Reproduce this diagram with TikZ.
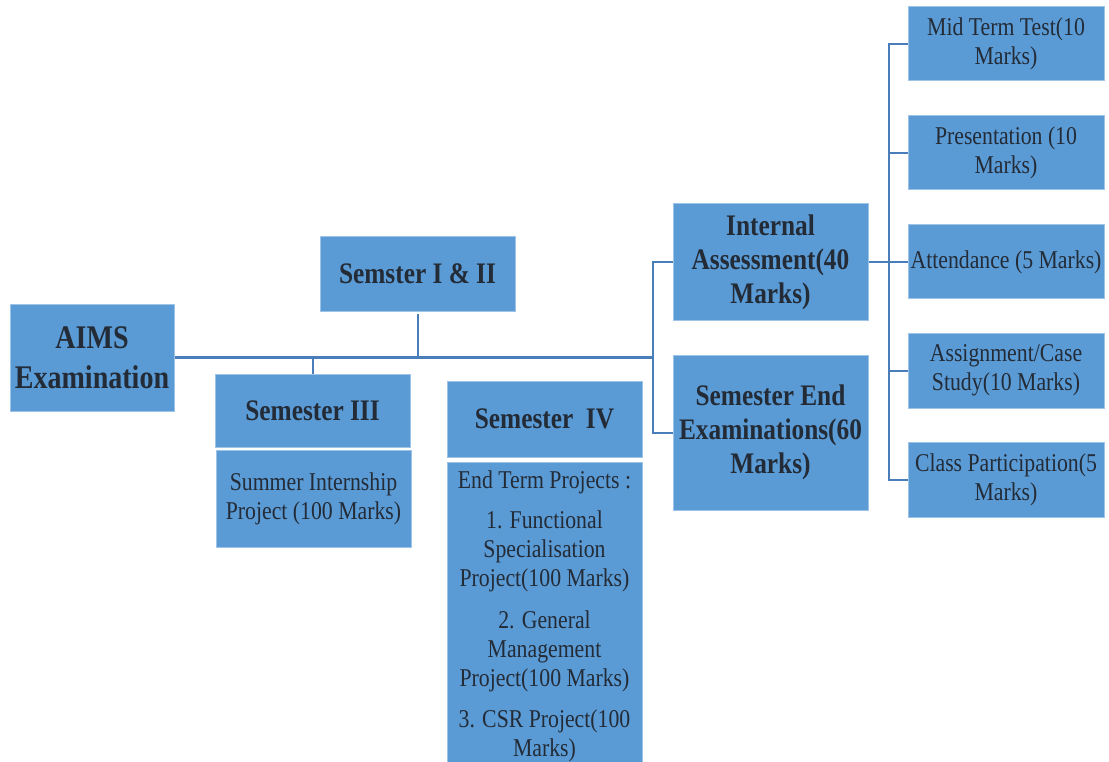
\documentclass[tikz,border=0pt]{standalone}
\usepackage{fontspec}
\setmainfont{Liberation Serif}[FakeStretch=0.85]
\usetikzlibrary{calc}
\definecolor{boxfill}{HTML}{5B9BD5}
\definecolor{boxline}{HTML}{9DC3E6}
\definecolor{conn}{HTML}{4A7EBB}
\definecolor{txt}{HTML}{232B36}
\tikzset{
  box/.style={rectangle, fill=boxfill, draw=boxline, line width=1pt, inner sep=0pt, align=center, text=txt},
  bighead/.style={box, font=\bfseries\fontsize{33}{40}\selectfont},
  head/.style={box, font=\bfseries\fontsize{29.8}{34}\selectfont},
  leaf/.style={box, font=\fontsize{25.6}{29}\selectfont},
  link/.style={draw=conn, line width=2pt},
  mainlink/.style={draw=conn, line width=2.6pt},
}
\begin{document}
\begin{tikzpicture}[x=1pt,y=-1pt]
\useasboundingbox (0,0) rectangle (1109,762);
% boxes
\node[bighead, minimum width=164pt, minimum height=107pt] (aims) at (92,357.5) {AIMS\\Examination};
\node[head, minimum width=195pt, minimum height=74pt] (sem12) at (417.5,274) {Semster I \& II};
\node[head, minimum width=195pt, minimum height=73pt] (sem3) at (312.5,410.5) {Semester III};
\node[leaf, minimum width=195pt, minimum height=97pt] (summer) at (313.5,498.5) {Summer Internship\\Project (100 Marks)};
\node[head, minimum width=195pt, minimum height=76pt] (sem4) at (544.5,419) {Semester\ \ IV};
\node[leaf, minimum width=195pt, minimum height=308pt] (endterm) at (544.5,616) {End Term Projects :\\[11.5pt]
1. Functional\\Specialisation\\Project(100 Marks)\\[12.5pt]
2. General\\Management\\Project(100 Marks)\\[12pt]
3. CSR Project(100\\Marks)};
\node[head, minimum width=195pt, minimum height=116pt] (ia) at (770.5,262) {Internal\\Assessment(40\\Marks)};
\node[head, minimum width=195pt, minimum height=155pt] (se) at (770.5,432.5) {Semester End\\Examinations(60\\Marks)};
\node[leaf, minimum width=196pt, minimum height=74pt] (mt) at (1006,44) {Mid Term Test(10\\Marks)};
\node[leaf, minimum width=196pt, minimum height=74pt] (pr) at (1006,153) {Presentation (10\\Marks)};
\node[leaf, minimum width=196pt, minimum height=74pt] (att) at (1006,262) {Attendance (5 Marks)};
\node[leaf, minimum width=196pt, minimum height=75pt] (asg) at (1006,370.5) {Assignment/Case\\Study(10 Marks)};
\node[leaf, minimum width=196pt, minimum height=75pt] (cp) at (1006,479.5) {Class Participation(5\\Marks)};
% junction points
\coordinate (j1) at (653,357.5);
\coordinate (j2) at (889,262);
% connectors
\draw[mainlink] (aims.east) -- (j1);
\draw[link] (sem12.south) ++(0,2) -- (sem12.south |- j1);
\draw[link] (sem3.north) -- (sem3.north |- j1);
\draw[link] (ia.west) -- (ia.west -| j1) -- (se.west -| j1) -- (se.west);
\draw[link] (ia.east) -- (j2);
\draw[link] (mt.west) -- (mt.west -| j2) -- (cp.west -| j2) -- (cp.west);
\draw[link] (pr.west) -- (pr.west -| j2);
\draw[link] (att.west) -- (att.west -| j2);
\draw[link] (asg.west) -- (asg.west -| j2);
\end{tikzpicture}
\end{document}
